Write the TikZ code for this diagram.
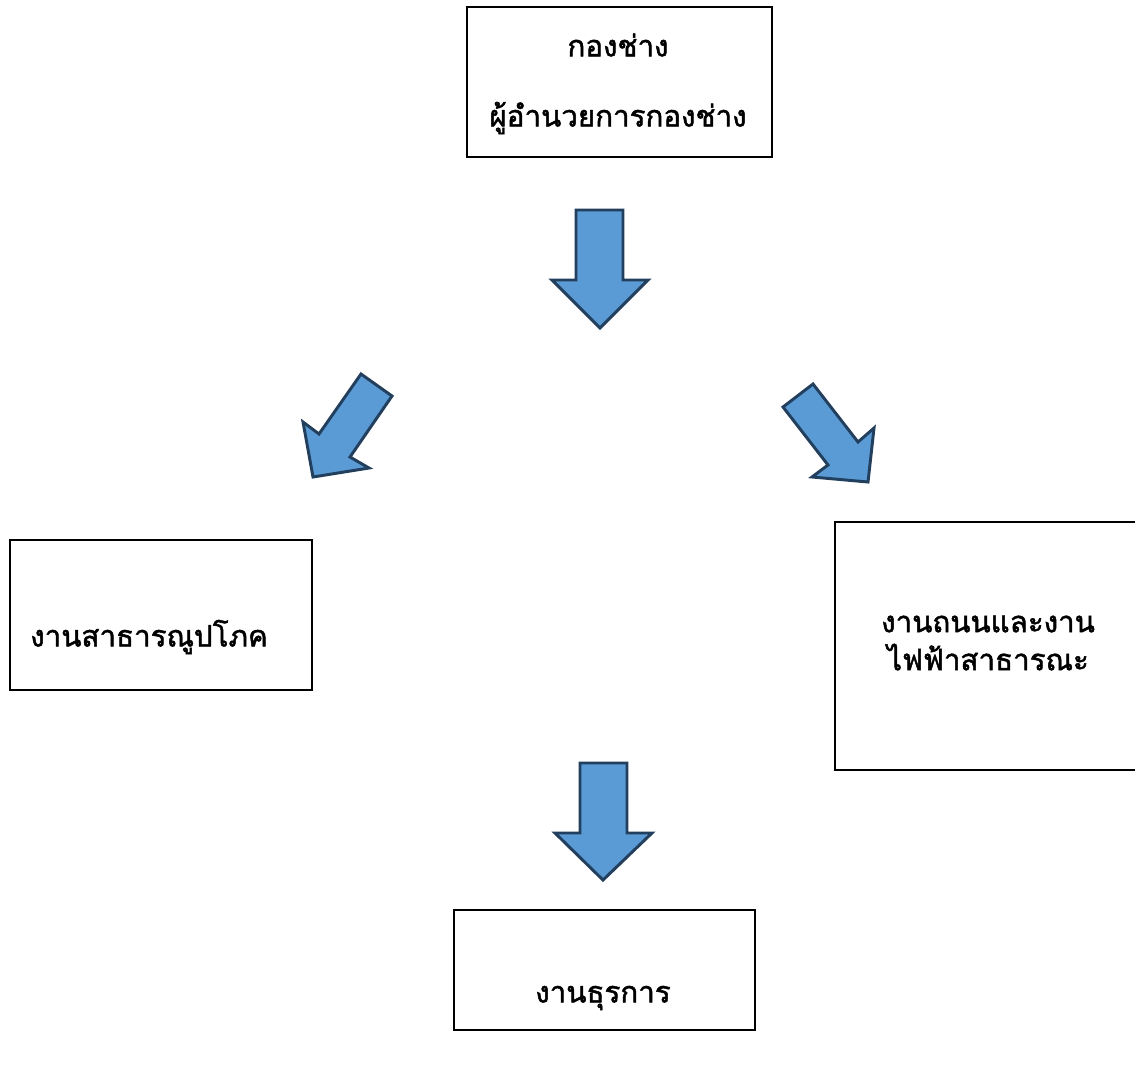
\documentclass[tikz,border=0pt]{standalone}
\usepackage{fontspec}
\newfontfamily\thaifont[Script=Thai, FakeBold=1.6]{Loma}
\usetikzlibrary{positioning}

\begin{document}
\begin{tikzpicture}[
        x=0.025cm, y=-0.025cm,
        unitbox/.style={rectangle, draw=black, line width=1.7pt, inner sep=0pt},
        unittext/.style={font=\thaifont\fontsize{21}{27}\selectfont, inner sep=0pt, align=center},
        bigarrow/.style={draw=arrowline, fill=arrowfill, line width=2.1pt, line join=miter}
    ]
    \definecolor{arrowfill}{HTML}{5B9BD5}
    \definecolor{arrowline}{HTML}{223F5E}
    \useasboundingbox (0,0) rectangle (1135,1067);

    % กองช่าง
    \node[unitbox, minimum width=7.625cm, minimum height=3.75cm] (head) at (619.5,82) {};
    \node[unittext] (head-t1) at (618,45) {กองช่าง};
    \node[unittext] (head-t2) at (618,118) {ผู้อำนวยการกองช่าง};

    % ลูกศรลง
    \draw[bigarrow] (576,210) -- (623,210) -- (623,280) -- (648,280) -- (600,328)
        -- (552,280) -- (576,280) -- cycle;

    % ลูกศรซ้าย
    \draw[bigarrow] (361,374) -- (392,396) -- (350,457) -- (369,468) -- (313,477)
        -- (303,422) -- (319,434) -- cycle;

    % ลูกศรขวา
    \draw[bigarrow] (813,384) -- (858,442) -- (874,428) -- (868,482) -- (812,477)
        -- (828,465) -- (783,407) -- cycle;

    % งานสาธารณูปโภค
    \node[unitbox, minimum width=7.55cm, minimum height=3.75cm] (water) at (161,615) {};
    \node[unittext, anchor=west] (water-t) at (30,637) {งานสาธารณูปโภค};

    % งานถนน
    \node[unitbox, minimum width=7.625cm, minimum height=6.2cm] (road) at (987.5,646) {};
    \node[unittext] (road-t) at (988,643) {งานถนนและงาน\\ไฟฟ้าสาธารณะ};

    % ลูกศรลง
    \draw[bigarrow] (580,763) -- (627,763) -- (627,833) -- (652,833) -- (603,880)
        -- (555,833) -- (580,833) -- cycle;

    % งานธุรการ
    \node[unitbox, minimum width=7.525cm, minimum height=3.0cm] (admin) at (604.5,970) {};
    \node[unittext] (admin-t) at (603,998) {งานธุรการ};

\end{tikzpicture}
\end{document}
